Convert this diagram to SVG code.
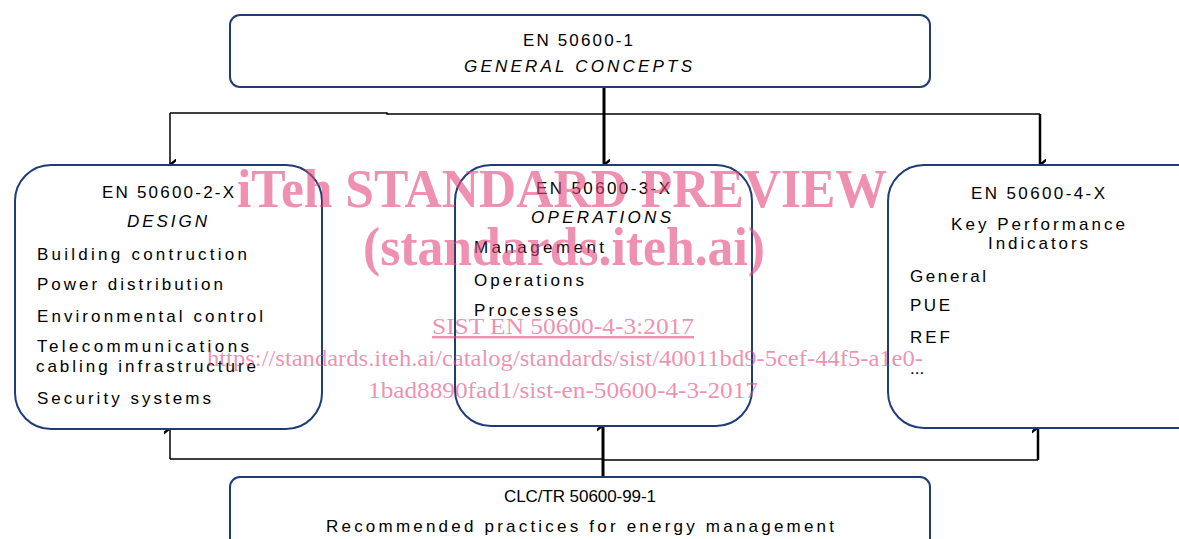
<svg xmlns="http://www.w3.org/2000/svg" width="1179" height="539" viewBox="0 0 1179 539">
<defs>
<marker id="ah" markerWidth="11" markerHeight="9" refX="5.5" refY="8" orient="auto-start-reverse" markerUnits="userSpaceOnUse" viewBox="0 0 11 9">
<path d="M0,2 L3,2 L5.5,5 L8,2 L11,2 L5.5,9 Z" fill="#000"/>
</marker>
</defs>
<style>
.box{fill:#fff;stroke:#1f3b78;stroke-width:2}
.t{font-family:"Liberation Sans",Arial,sans-serif;font-size:17px;fill:#000}
.c{text-anchor:middle}
.i{font-style:italic}
.ln{fill:none;stroke:#000;stroke-width:1.5}
.thick{fill:none;stroke:#000;stroke-width:3}
.mid{fill:none;stroke:#000;stroke-width:2.5}
.wm{font-family:"Liberation Serif","Times New Roman",serif;fill:#e4467c;fill-opacity:0.6;text-anchor:middle}
</style>
<rect width="1179" height="539" fill="#fff"/>
<g id="connectors">
<path class="ln" d="M170,113 H387 V114 H1040"/>
<path class="ln" d="M170,113 V164" marker-end="url(#ah)"/>
<path class="mid" d="M1040,114 V164" marker-end="url(#ah)"/>
<path class="thick" d="M604,87 V164" marker-end="url(#ah)"/>
<path class="ln" d="M170,459 H603 V460 H1038"/>
<path class="ln" d="M170,459 V429" marker-end="url(#ah)"/>
<path class="mid" d="M1038,460 V428" marker-end="url(#ah)"/>
<path class="thick" d="M603,477 V426" marker-end="url(#ah)"/>
</g>
<g id="node-general">
<rect class="box" x="230" y="15" width="700" height="72" rx="10"/>
<text class="t c" x="578" y="46" textLength="110" lengthAdjust="spacing">EN 50600-1</text>
<text class="t c i" x="578" y="72" textLength="228" lengthAdjust="spacing">GENERAL CONCEPTS</text>
</g>
<g id="node-design">
<rect class="box" x="15" y="165" width="307" height="264" rx="36"/>
<text class="t c" x="168" y="198" textLength="132" lengthAdjust="spacing">EN 50600-2-X</text>
<text class="t c i" x="167" y="227" textLength="80" lengthAdjust="spacing">DESIGN</text>
<text class="t" x="37" y="260" textLength="210" lengthAdjust="spacing">Building contruction</text>
<text class="t" x="37" y="290" textLength="186" lengthAdjust="spacing">Power distribution</text>
<text class="t" x="37" y="322" textLength="226" lengthAdjust="spacing">Environmental control</text>
<text class="t" x="37" y="352" textLength="212" lengthAdjust="spacing">Telecommunications</text>
<text class="t" x="36" y="372" textLength="220" lengthAdjust="spacing">cabling infrastructure</text>
<text class="t" x="37" y="404" textLength="174" lengthAdjust="spacing">Security systems</text>
</g>
<g id="node-operations">
<rect class="box" x="455" y="165" width="297" height="261" rx="36"/>
<text class="t c" x="603" y="194" textLength="134" lengthAdjust="spacing">EN 50600-3-X</text>
<text class="t c i" x="601" y="223" textLength="140" lengthAdjust="spacing">OPERATIONS</text>
<text class="t" x="474" y="253" textLength="130" lengthAdjust="spacing">Management</text>
<text class="t" x="474" y="286" textLength="110" lengthAdjust="spacing">Operations</text>
<text class="t" x="474" y="316" textLength="104" lengthAdjust="spacing">Processes</text>
</g>
<g id="node-kpi">
<rect class="box" x="888" y="165" width="330" height="263" rx="36"/>
<text class="t c" x="1038" y="199" textLength="134" lengthAdjust="spacing">EN 50600-4-X</text>
<text class="t c" x="1038" y="230" textLength="174" lengthAdjust="spacing">Key Performance</text>
<text class="t c" x="1038" y="249" textLength="100" lengthAdjust="spacing">Indicators</text>
<text class="t" x="910" y="282" textLength="76" lengthAdjust="spacing">General</text>
<text class="t" x="910" y="311" textLength="40" lengthAdjust="spacing">PUE</text>
<text class="t" x="910" y="343" textLength="40" lengthAdjust="spacing">REF</text>
<text class="t" x="910" y="374">...</text>
</g>
<g id="node-practices">
<rect class="box" x="230" y="477" width="700" height="80" rx="10"/>
<text class="t c" x="580" y="502" textLength="152" lengthAdjust="spacing">CLC/TR 50600-99-1</text>
<text class="t c" x="580" y="532" textLength="508" lengthAdjust="spacing">Recommended practices for energy management</text>
</g>
<g id="watermark">
<text class="wm" x="562" y="207" font-size="54" font-weight="bold" textLength="650" lengthAdjust="spacingAndGlyphs">iTeh STANDARD PREVIEW</text>
<text class="wm" x="564" y="265" font-size="54" font-weight="bold" textLength="402" lengthAdjust="spacingAndGlyphs">(standards.iteh.ai)</text>
<text class="wm" x="563" y="334" font-size="24" text-decoration="underline" textLength="262" lengthAdjust="spacingAndGlyphs">SIST EN 50600-4-3:2017</text>
<text class="wm" x="565" y="366" font-size="24" textLength="716" lengthAdjust="spacingAndGlyphs">https://standards.iteh.ai/catalog/standards/sist/40011bd9-5cef-44f5-a1e0-</text>
<text class="wm" x="563" y="398" font-size="24" textLength="390" lengthAdjust="spacingAndGlyphs">1bad8890fad1/sist-en-50600-4-3-2017</text>
</g>
</svg>
